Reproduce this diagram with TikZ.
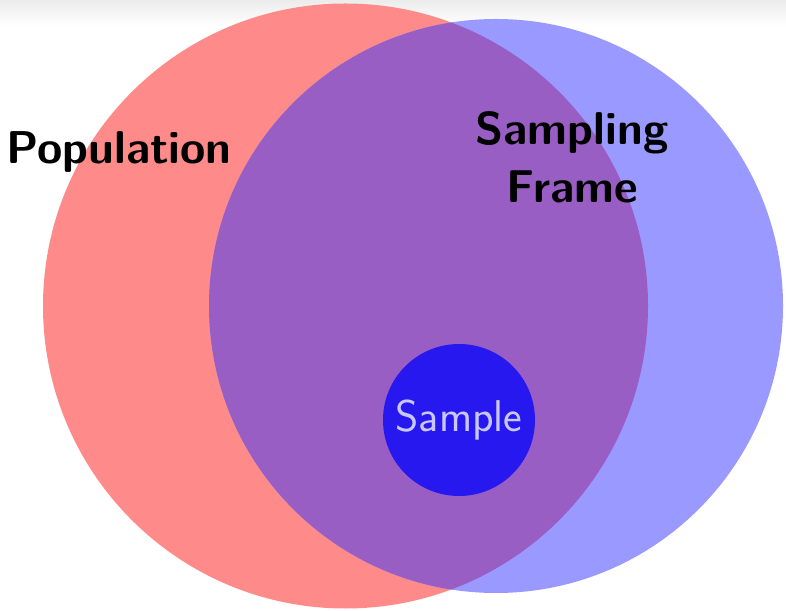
\documentclass[tikz,border=0pt]{standalone}
\usepackage{fontspec}
\begin{document}
\begin{tikzpicture}[x=1pt,y=1pt,
  setlabel/.style={font=\sffamily\bfseries\fontsize{46}{58}\selectfont, text=black, align=center},
  popfill/.style={fill={rgb,255:red,255;green,138;blue,138}},
  framefill/.style={fill={rgb,255:red,153;green,153;blue,255}},
  overlapfill/.style={fill={rgb,255:red,152;green,94;blue,196}},
  samplefill/.style={fill={rgb,255:red,38;green,24;blue,238}}]
\useasboundingbox (0,0) rectangle (786,610);
% soft shadow along the top edge
\shade[top color={rgb,255:red,236;green,236;blue,236}, bottom color=white] (0,584) rectangle (786,610);
% population and sampling frame
\coordinate (pc) at (345.5,304);
\coordinate (fc) at (496,304);
\fill[popfill] (pc) circle (302.5);
\fill[framefill] (fc) circle (287);
\begin{scope}
  \clip (pc) circle (302.5);
  \fill[overlapfill] (fc) circle (287);
\end{scope}
% sample
\node[circle, samplefill, minimum size=152, inner sep=0] (sample) at (459,190) {};
\node[font=\sffamily\fontsize{44.5}{52}\selectfont, text={rgb,255:red,200;green,200;blue,255}] (samplelabel) at (sample.center) {Sample};
\node[setlabel] (pop) at (119,458) {Population};
\node[setlabel] (frame) at (572,453) {Sampling\\Frame};
\end{tikzpicture}
\end{document}
